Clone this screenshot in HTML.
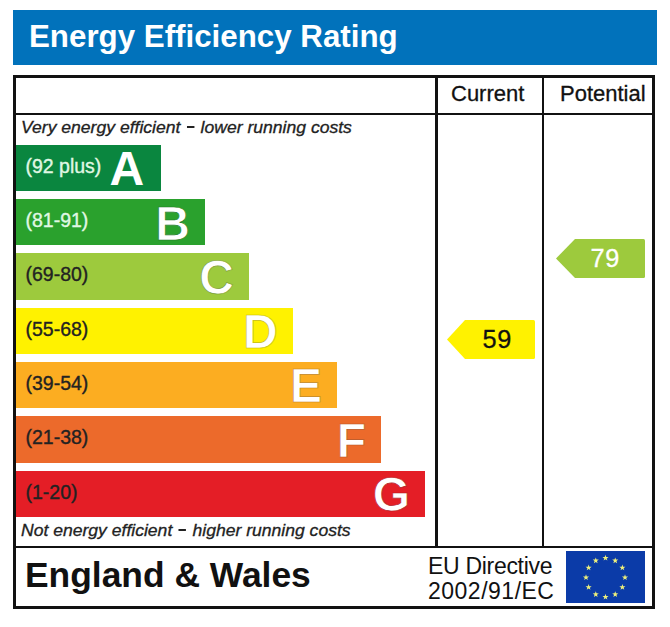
<!DOCTYPE html>
<html><head><meta charset="utf-8">
<style>
*{margin:0;padding:0;box-sizing:border-box}
html,body{width:670px;height:627px;background:#fff;overflow:hidden;font-family:"Liberation Sans",sans-serif}
.a{position:absolute}
#hdr{left:12.5px;top:10px;width:644.5px;height:54.7px;background:#0172bb}
#title{left:29px;top:18.5px;font-size:31.3px;font-weight:bold;color:#fff;white-space:nowrap;line-height:36px}
.ln{position:absolute;background:#111}
.bar{position:absolute;left:15.5px;height:46.3px}
.rng{position:absolute;left:10px;top:-2px;line-height:46px;font-size:19.5px;color:#e0f8e4;white-space:nowrap;-webkit-text-stroke:0.35px currentColor}
.let{position:absolute;right:15px;top:1.5px;line-height:46px;font-size:48px;font-weight:bold;color:#fff;-webkit-text-stroke-width:0.7px}
.it{position:absolute;left:21px;font-style:italic;font-size:16.5px;transform:scaleX(1.064);transform-origin:0 0;color:#222;white-space:nowrap;-webkit-text-stroke:0.3px currentColor}
.hd{position:absolute;font-size:22px;color:#111;white-space:nowrap;-webkit-text-stroke:0.3px currentColor}
.arr{position:absolute;height:39px}
.arr svg{position:absolute;left:0;top:0}
.arr span{position:absolute;font-size:25.3px;line-height:39px;white-space:nowrap;letter-spacing:0.8px;-webkit-text-stroke:0.3px currentColor}
.dash{display:inline-block;width:7px;height:2px;background:#222;vertical-align:5px;margin:0 6px 0 6px}
</style></head><body>
<div id="hdr" class="a"></div>
<div id="title" class="a">Energy Efficiency Rating</div>

<!-- table lines -->
<div class="ln" style="left:13px;top:75px;width:642px;height:2.5px"></div>
<div class="ln" style="left:13px;top:75px;width:2.7px;height:534px"></div>
<div class="ln" style="left:652px;top:75px;width:2.7px;height:534px"></div>
<div class="ln" style="left:13px;top:606.2px;width:642px;height:3.2px"></div>
<div class="ln" style="left:13px;top:112.5px;width:642px;height:2.5px"></div>
<div class="ln" style="left:13px;top:545.5px;width:642px;height:2.5px"></div>
<div class="ln" style="left:435.3px;top:75px;width:2.8px;height:472px"></div>
<div class="ln" style="left:541.7px;top:75px;width:2.8px;height:472px"></div>

<div class="hd" style="left:451px;top:81px">Current</div>
<div class="hd" style="left:560px;top:81px">Potential</div>

<div class="it" style="top:118px">Very energy efficient<span class="dash"></span>lower running costs</div>

<div class="bar" style="top:144.70px;width:145.1px;background:#0a863f"><span class="rng">(92 plus)</span><span class="let" style="right:16.5px;-webkit-text-stroke-width:0">A</span></div>
<div class="bar" style="top:199.02px;width:189.3px;background:#2aa12d"><span class="rng">(81-91)</span><span class="let" style="-webkit-text-stroke-color:#207d23">B</span></div>
<div class="bar" style="top:253.34px;width:233.3px;background:#9dca3d"><span class="rng" style="color:#222">(69-80)</span><span class="let" style="-webkit-text-stroke-color:#7a9d2f">C</span></div>
<div class="bar" style="top:307.66px;width:277.2px;background:#fff200"><span class="rng" style="color:#222">(55-68)</span><span class="let" style="-webkit-text-stroke-color:#c6bc00">D</span></div>
<div class="bar" style="top:361.98px;width:321.4px;background:#fcad21"><span class="rng" style="color:#222">(39-54)</span><span class="let" style="-webkit-text-stroke-color:#c48619">E</span></div>
<div class="bar" style="top:416.30px;width:365.5px;background:#ec6a2b"><span class="rng" style="color:#222">(21-38)</span><span class="let" style="-webkit-text-stroke-color:#b85221">F</span></div>
<div class="bar" style="top:470.62px;width:409.5px;background:#e41e26"><span class="rng" style="color:#222">(1-20)</span><span class="let" style="-webkit-text-stroke-color:#b1171d">G</span></div>

<div class="it" style="top:520.5px">Not energy efficient<span class="dash"></span>higher running costs</div>

<div class="arr" style="left:447px;top:320px;width:88px">
<svg width="88" height="39"><path d="M0,19.5 L18,0 H86.5 Q88,0 88,1.5 V37.5 Q88,39 86.5,39 H18 Z" fill="#fff200"/></svg>
<span style="left:35.5px;color:#111">59</span></div>
<div class="arr" style="left:556px;top:239px;width:89px">
<svg width="89" height="39"><path d="M0,19.5 L19,0 H87.5 Q89,0 89,1.5 V37.5 Q89,39 87.5,39 H19 Z" fill="#9dca3d"/></svg>
<span style="left:34.5px;color:#fff">79</span></div>

<div class="a" style="left:25px;top:555px;font-size:35.4px;font-weight:bold;color:#111;white-space:nowrap">England &amp; Wales</div>
<div class="a" style="left:428px;top:553.5px;font-size:23px;line-height:25px;color:#111;white-space:nowrap"><div style="letter-spacing:-0.3px">EU Directive</div><div style="letter-spacing:0.5px">2002/91/EC</div></div>

<svg class="a" style="left:566px;top:551px" width="79" height="52">
<rect width="79" height="52" fill="#0b3ba8"/>
<g fill="#eef07c"><polygon points="39.50,3.80 40.25,5.96 42.54,6.01 40.72,7.40 41.38,9.59 39.50,8.28 37.62,9.59 38.28,7.40 36.46,6.01 38.75,5.96"/><polygon points="49.25,6.41 50.00,8.58 52.29,8.62 50.47,10.01 51.13,12.20 49.25,10.89 47.37,12.20 48.03,10.01 46.21,8.62 48.50,8.58"/><polygon points="56.39,13.55 57.14,15.71 59.43,15.76 57.60,17.15 58.27,19.34 56.39,18.03 54.51,19.34 55.17,17.15 53.34,15.76 55.64,15.71"/><polygon points="59.00,23.30 59.75,25.46 62.04,25.51 60.22,26.90 60.88,29.09 59.00,27.78 57.12,29.09 57.78,26.90 55.96,25.51 58.25,25.46"/><polygon points="56.39,33.05 57.14,35.21 59.43,35.26 57.60,36.65 58.27,38.84 56.39,37.53 54.51,38.84 55.17,36.65 53.34,35.26 55.64,35.21"/><polygon points="49.25,40.19 50.00,42.35 52.29,42.40 50.47,43.78 51.13,45.98 49.25,44.67 47.37,45.98 48.03,43.78 46.21,42.40 48.50,42.35"/><polygon points="39.50,42.80 40.25,44.96 42.54,45.01 40.72,46.40 41.38,48.59 39.50,47.28 37.62,48.59 38.28,46.40 36.46,45.01 38.75,44.96"/><polygon points="29.75,40.19 30.50,42.35 32.79,42.40 30.97,43.78 31.63,45.98 29.75,44.67 27.87,45.98 28.53,43.78 26.71,42.40 29.00,42.35"/><polygon points="22.61,33.05 23.36,35.21 25.66,35.26 23.83,36.65 24.49,38.84 22.61,37.53 20.73,38.84 21.40,36.65 19.57,35.26 21.86,35.21"/><polygon points="20.00,23.30 20.75,25.46 23.04,25.51 21.22,26.90 21.88,29.09 20.00,27.78 18.12,29.09 18.78,26.90 16.96,25.51 19.25,25.46"/><polygon points="22.61,13.55 23.36,15.71 25.66,15.76 23.83,17.15 24.49,19.34 22.61,18.03 20.73,19.34 21.40,17.15 19.57,15.76 21.86,15.71"/><polygon points="29.75,6.41 30.50,8.58 32.79,8.62 30.97,10.01 31.63,12.20 29.75,10.89 27.87,12.20 28.53,10.01 26.71,8.62 29.00,8.58"/></g>
</svg>
</body></html>
